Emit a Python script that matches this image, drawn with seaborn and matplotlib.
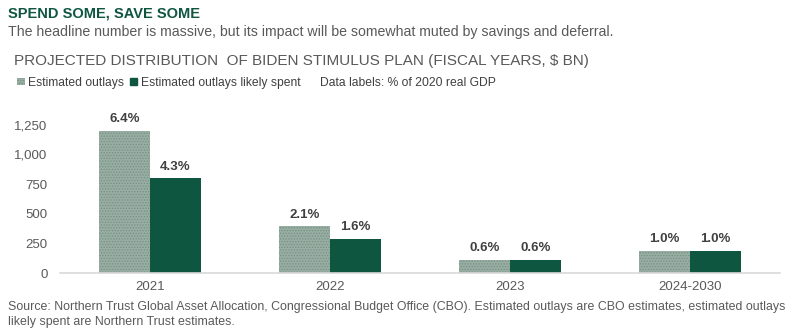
import matplotlib
matplotlib.use("Agg")
import matplotlib.pyplot as plt
from matplotlib.patches import Patch
from matplotlib.ticker import FuncFormatter
import seaborn as sns
import pandas as pd

categories = ["2021", "2022", "2023", "2024-2030"]
outlays = [1200, 395, 112, 190]
likely_spent = [800, 290, 112, 190]
outlays_labels = ["6.4%", "2.1%", "0.6%", "1.0%"]
spent_labels = ["4.3%", "1.6%", "0.6%", "1.0%"]
series_names = ["Estimated outlays", "Estimated outlays likely spent"]

sns.set_theme(style="white")
plt.rcParams["font.family"] = ["Liberation Sans", "DejaVu Sans"]
plt.rcParams["hatch.linewidth"] = 0.6

GREEN = "#0f5640"
LIGHT = "#98aea4"
HATCH = "#75907f"
GREY = "#595959"

df = pd.DataFrame({
    "year": categories * 2,
    "value": outlays + likely_spent,
    "series": [series_names[0]] * 4 + [series_names[1]] * 4,
})

fig = plt.figure(figsize=(8, 3.31), dpi=100)
ax = fig.add_axes([0.075, 0.175, 0.9, 0.466])
sns.barplot(data=df, x="year", y="value", hue="series", order=categories,
            hue_order=series_names, palette=[LIGHT, GREEN], width=0.567,
            saturation=1, legend=False, linewidth=0, ax=ax)

for bar in ax.containers[0]:
    bar.set_hatch("......")
    bar.set_edgecolor(HATCH)
    bar.set_linewidth(0)
for bar in ax.containers[1]:
    bar.set_linewidth(0)
for cont, labs in zip(ax.containers, [outlays_labels, spent_labels]):
    ax.bar_label(cont, labels=labs, padding=4, fontsize=9.5, fontweight="bold",
                 color="#404040")

ax.set_xlim(-0.5, 3.5)
ax.set_ylim(0, 1300)
ax.set_yticks([0, 250, 500, 750, 1000, 1250])
ax.yaxis.set_major_formatter(FuncFormatter(lambda v, p: f"{int(v):,}"))
ax.set_xlabel("")
ax.set_ylabel("")
for s in ["top", "right", "left"]:
    ax.spines[s].set_visible(False)
ax.spines["bottom"].set_color("#d9d9d9")
ax.spines["bottom"].set_linewidth(1.2)
ax.tick_params(axis="both", length=0, labelsize=9.5, labelcolor=GREY)
ax.tick_params(axis="y", pad=9)
ax.tick_params(axis="x", pad=6)

fig.text(0.01, 0.96, "SPEND SOME, SAVE SOME", fontsize=10.5, fontweight="bold",
         color=GREEN, va="center")
fig.text(0.01, 0.903, "The headline number is massive, but its impact will be somewhat muted by savings and deferral.",
         fontsize=10.2, color=GREY, va="center")
fig.text(0.018, 0.815, "PROJECTED DISTRIBUTION  OF BIDEN STIMULUS PLAN (FISCAL YEARS, $ BN)",
         fontsize=11.0, color=GREY, va="center")

handles = [Patch(facecolor=LIGHT, edgecolor=HATCH, hatch="......", linewidth=0),
           Patch(facecolor=GREEN, edgecolor=GREEN)]
fig.legend(handles, series_names, loc="center left", bbox_to_anchor=(0.008, 0.75),
           frameon=False, fontsize=8.7, handlelength=0.6, handleheight=0.6,
           handletextpad=0.3, columnspacing=0.5, ncol=2, labelcolor="#404040")
fig.text(0.4, 0.75, "Data labels: % of 2020 real GDP", fontsize=8.7, color="#404040",
         va="center")

fig.text(0.01, 0.072, "Source: Northern Trust Global Asset Allocation, Congressional Budget Office (CBO). Estimated outlays are CBO estimates, estimated outlays",
         fontsize=8.95, color=GREY, va="center")
fig.text(0.01, 0.027, "likely spent are Northern Trust estimates.",
         fontsize=8.95, color=GREY, va="center")

fig.savefig("out.png", dpi=100, facecolor="white")
